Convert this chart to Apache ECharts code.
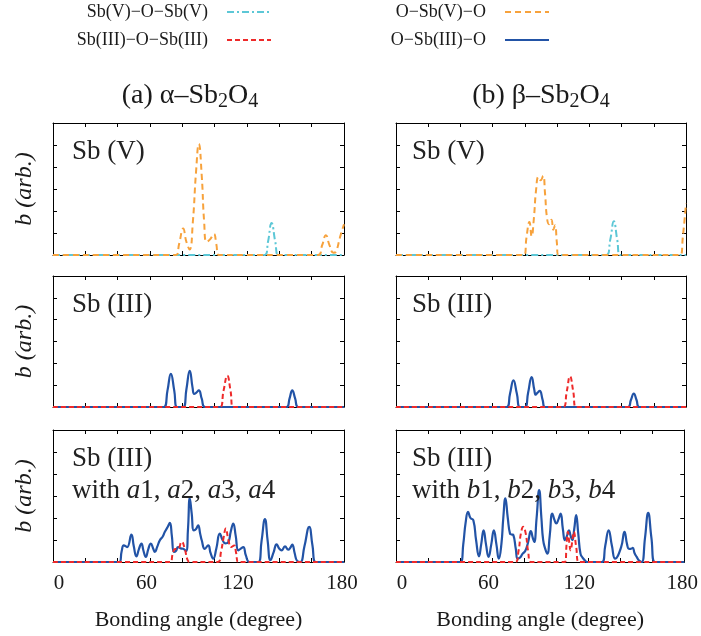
<!DOCTYPE html>
<html>
<head>
<meta charset="utf-8">
<script src="https://cdn.jsdelivr.net/npm/echarts@6/dist/echarts.min.js"></script>
<style>html,body{margin:0;padding:0;background:#fff;}#c{width:701px;height:636px;}</style>
</head>
<body>
<div id="c"></div>
<script>
// ---- data ----
const xTickValues = [0, 60, 120, 180];
const xTickLabels = ['0', '60', '120', '180'];
const seriesNames = ['Sb(V)−O−Sb(V)', 'O−Sb(V)−O', 'Sb(III)−O−Sb(III)', 'O−Sb(III)−O'];
const columnTitles = ['(a) α–Sb{s|2}O{s|4}', '(b) β–Sb{s|2}O{s|4}'];
const panelLabels = [
  'Sb (V)', 'Sb (V)',
  'Sb (III)', 'Sb (III)',
  'Sb (III)\nwith {i|a}1, {i|a}2, {i|a}3, {i|a}4', 'Sb (III)\nwith {i|b}1, {i|b}2, {i|b}3, {i|b}4'
];

// panel (a) Sb(V)
const a1Orange = [[0,0],[76,0],[78,0.5],[80.5,1.2],[82.5,0.6],[84.5,0.25],[86.5,1.5],[88.5,3.8],[90.2,5.05],[92,3.6],[93.5,1.5],[95,0.6],[97,0.7],[99.5,0.95],[101,0.5],[102.5,0],[164,0],[166.5,0.45],[168.8,0.9],[171,0.45],[173.5,0.1],[175,0.15],[177.5,0.8],[180,1.4]];
const a1Cyan = [[0,0],[131,0],[133,0.6],[135.2,1.45],[137.5,0.6],[139.5,0],[180,0]];
// panel (b) Sb(V)
const b1Orange = [[0,0],[79.5,0],[81,0.8],[82.8,1.5],[84.2,0.85],[85.5,1.6],[87,3.0],[88.4,3.55],[89.8,3.4],[91.3,3.6],[92.5,2.8],[93.7,1.7],[95,1.4],[96.5,1.6],[97.6,1.15],[98.7,1.35],[99.8,0.6],[100.7,0],[176.5,0],[178,0.8],[180,2.35]];
const b1Cyan = [[0,0],[130.5,0],[133,0.7],[135.2,1.53],[137.3,0.7],[139.2,0],[180,0]];
// panel (a) Sb(III)
const a2Blue = [[0,0],[68.5,0],[70.8,0.75],[72.9,1.52],[75,0.75],[76.8,0],[80.5,0],[82.5,0.8],[84.6,1.66],[86.3,0.9],[87.3,0.6],[88.5,0.65],[90.2,0.76],[92,0.38],[94,0],[144.5,0],[146.3,0.38],[148,0.76],[149.8,0.38],[151.7,0],[180,0]];
const a2Red = [[0,0],[103.2,0],[105.5,0.75],[107.8,1.43],[109.8,0.75],[111.5,0],[180,0]];
// panel (b) Sb(III)
const b2Blue = [[0,0],[68.7,0],[70.8,0.62],[72.9,1.22],[75,0.62],[77,0],[80,0],[82,0.65],[84.2,1.37],[85.8,0.8],[86.7,0.56],[87.8,0.65],[89.2,0.74],[91,0.33],[92.5,0],[144,0],[145.8,0.32],[147.6,0.61],[149.3,0.32],[151,0],[180,0]];
const b2Red = [[0,0],[103.8,0],[106,0.72],[108,1.4],[110,0.72],[111.7,0],[180,0]];
// panel (a) Sb(III) with a1..a4
const a3Blue = [[0,0],[41,0],[42.5,0.5],[43.8,0.76],[45.8,0.68],[48.5,1.25],[50,0.7],[51.6,0.26],[53.2,0.6],[54.7,0.84],[56,0.5],[57.4,0.23],[59,0.6],[60.5,0.84],[62,0.6],[63,0.46],[64.5,0.7],[66.1,0.99],[67.8,1.15],[69.2,1.37],[71,1.6],[72.3,1.78],[73.5,1.2],[74.8,0.46],[76,0.5],[77.4,0.68],[79,0.62],[80.5,0.6],[82.3,0.5],[83.5,1.5],[84.6,2.89],[85.8,2.2],[87.1,1.44],[88.5,1.5],[89.8,1.67],[91,1.3],[92,0.99],[93.9,0.6],[96,0.76],[97.5,0.4],[99.1,0.15],[101,0.6],[103.2,1.29],[104.9,1.0],[106.5,0.85],[108.4,0.9],[110,1.4],[111.5,1.75],[113,1.2],[114.6,0.53],[116,0.6],[117.7,0.68],[119.3,0.3],[121.5,0],[127,0],[129,0.95],[131.1,1.95],[132.8,0.95],[134.5,0.08],[136.5,0.45],[138.3,0.8],[140,0.6],[141.4,0.53],[143.5,0.71],[145.5,0.56],[146.8,0.65],[148,0.79],[149.5,0.4],[151,0.05],[153,0],[155.5,0.7],[158.5,1.6],[160.5,0.75],[162.5,0],[180,0]];
const a3Red = [[0,0],[72.5,0],[74,0.35],[75.5,0.59],[77.3,0.6],[79.6,0.92],[81.5,0.6],[83.2,0.1],[84.7,0],[102,0],[104,0.5],[105.5,1.1],[106.9,1.52],[108.5,1.0],[110.2,0.68],[112,0.75],[113.3,0.4],[114.6,0],[180,0]];
// panel (b) Sb(III) with b1..b4
const b3Blue = [[0,0],[40.3,0],[42,0.8],[43.5,1.8],[45,2.28],[46.5,2.0],[48.3,1.9],[50,1.0],[51.8,0.26],[53.2,0.8],[54.7,1.44],[56.2,0.8],[57.8,0.23],[59.5,0.8],[61.1,1.44],[62.7,0.8],[64.2,0.15],[65.8,0.8],[67,2.0],[68.3,2.89],[69.8,2.0],[71.2,1.29],[72.3,1.25],[73.3,1.22],[74.8,0.6],[76,0.15],[77.5,0.2],[79.1,0.38],[80.7,0.5],[82.5,0.9],[84.2,1.4],[85.4,1.1],[86.3,0.91],[87.8,2.0],[89.4,3.27],[90.8,2.0],[91.9,0.99],[93.2,0.6],[94.5,0.38],[96,1.2],[97.6,2.2],[99,1.9],[100.1,1.75],[101.5,1.95],[102.8,2.2],[104.2,1.5],[105.5,0.99],[106.8,1.2],[108,1.44],[109,1.2],[110.1,0.99],[111.3,1.5],[112.5,2.13],[113.8,1.3],[115.2,0.38],[116.5,0.2],[117.9,0.08],[119.3,0],[128.6,0],[130.7,0.75],[132.8,1.44],[134.8,0.75],[136.9,0.15],[140.5,0.65],[142.7,1.37],[144.3,0.8],[145.5,0.6],[146.7,0.6],[147.8,0.64],[149,0.4],[150.3,0.23],[152,0.05],[153.5,0],[155.5,1.1],[157.5,2.23],[159.5,1.1],[161.7,0],[180,0]];
const b3Red = [[0,0],[74.5,0],[76.5,0.5],[78,1.3],[79.5,1.6],[81,1.3],[82.5,0.5],[84.2,0],[105.5,0],[106.5,0.8],[107.3,1.37],[108.2,0.9],[109,0.53],[110,0.9],[111,1.37],[112.5,0.7],[114.2,0],[180,0]];

// ---- styling ----
const FONT = "'Liberation Serif', 'Times New Roman', serif";
const TXT = '#1a1a1a';
const COLORS = { cyan: '#5cc7d6', orange: '#f7a23c', red: '#ee2a2a', blue: '#2253a6' };
const LINES = [
  { color: COLORS.cyan, width: 2, type: [7, 3, 2, 3] },
  { color: COLORS.orange, width: 2, type: [6, 4] },
  { color: COLORS.red, width: 2, type: [5, 3] },
  { color: COLORS.blue, width: 2.2, type: 'solid' }
];

const gridLefts = [53, 396];
const gridWidths = [291, 290];
const gridTops = [123, 276, 430];
const gridHeights = [132, 131, 132];

const panelSeries = [
  [[0, a1Cyan], [1, a1Orange]],
  [[0, b1Cyan], [1, b1Orange]],
  [[3, a2Blue], [2, a2Red]],
  [[3, b2Blue], [2, b2Red]],
  [[3, a3Blue], [2, a3Red]],
  [[3, b3Blue], [2, b3Red]]
];

const grid = [], xAxis = [], yAxis = [], series = [], title = [];
const axisLine = { show: true, onZero: false, lineStyle: { color: '#000', width: 1 } };
const axisTick = { show: true, inside: true, length: 4, lineStyle: { color: '#000', width: 1 } };
const tickRich = {};
const tickPads = [[0, 0, 0, 12], [0, 7, 0, 0], [0, 18, 0, 0], [0, 4, 0, 0]];
tickPads.forEach((p, i) => { tickRich['t' + i] = { fontFamily: FONT, fontSize: 21, color: TXT, padding: p }; });

for (let p = 0; p < 6; p++) {
  const col = p % 2, row = Math.floor(p / 2);
  grid.push({ left: gridLefts[col], width: gridWidths[col], top: gridTops[row], height: gridHeights[row], containLabel: false });
  const bottomRow = row === 2;
  xAxis.push({
    type: 'value', gridIndex: p, min: 0, max: 180, interval: 20, position: 'bottom',
    axisLine, axisTick, splitLine: { show: false },
    axisLabel: {
      show: bottomRow, margin: 11, fontFamily: FONT, fontSize: 21, color: TXT,
      formatter: v => { const i = xTickValues.indexOf(v); return i < 0 ? '' : '{t' + i + '|' + xTickLabels[i] + '}'; },
      rich: tickRich
    },
    name: bottomRow ? 'Bonding angle (degree)' : '', nameLocation: 'middle', nameGap: 47,
    nameTextStyle: { fontFamily: FONT, fontSize: 22, color: TXT }
  });
  xAxis.push({
    type: 'value', gridIndex: p, min: 0, max: 180, interval: 20, position: 'top',
    axisLine, axisTick, splitLine: { show: false }, axisLabel: { show: false }
  });
  yAxis.push({
    type: 'value', gridIndex: p, min: 0, max: 6, interval: 1, position: 'left',
    axisLine, axisTick, splitLine: { show: false }, axisLabel: { show: false },
    name: col === 0 ? 'b (arb.)' : '', nameLocation: 'middle', nameGap: 16, nameRotate: 90,
    nameTextStyle: { fontFamily: FONT, fontSize: 24, fontStyle: 'italic', color: TXT }
  });
  yAxis.push({
    type: 'value', gridIndex: p, min: 0, max: 6, interval: 1, position: 'right',
    axisLine, axisTick, splitLine: { show: false }, axisLabel: { show: false }
  });
  panelSeries[p].forEach(([k, data]) => {
    series.push({
      type: 'line', name: seriesNames[k], xAxisIndex: 2 * p, yAxisIndex: 2 * p,
      data, smooth: 0.5, symbol: 'none', showSymbol: false, clip: true,
      lineStyle: { color: LINES[k].color, width: LINES[k].width, type: LINES[k].type },
      itemStyle: { color: LINES[k].color }, z: k === 2 ? 4 : 3
    });
  });
  title.push({
    text: panelLabels[p], left: col === 0 ? 72 : 412, top: gridTops[row] + 13, padding: 0,
    textStyle: {
      fontFamily: FONT, fontSize: 27, fontWeight: 'normal', color: '#222', lineHeight: 32,
      rich: { i: { fontFamily: FONT, fontSize: 27, fontStyle: 'italic', color: '#222', lineHeight: 32 } }
    }
  });
}

const titleCenters = [190, 541];
columnTitles.forEach((t, i) => {
  title.push({
    text: t, left: titleCenters[i], top: 80, textAlign: 'center', padding: 0,
    textStyle: {
      fontFamily: FONT, fontSize: 28, fontWeight: 'normal', color: TXT, lineHeight: 32,
      rich: { s: { fontFamily: FONT, fontSize: 20, color: TXT, lineHeight: 20, verticalAlign: 'bottom' } }
    }
  });
});

const legendRights = [429, 151, 429, 151];
const legendTops = [3, 3, 31, 31];
const legend = seriesNames.map((n, i) => ({
  data: [n], right: legendRights[i], top: legendTops[i], align: 'right', orient: 'horizontal',
  itemWidth: 44, itemHeight: 14, padding: 0, selectedMode: false,
  itemStyle: { opacity: 0, borderWidth: 0 },
  textStyle: { fontFamily: FONT, fontSize: 18, color: TXT, padding: [0, 14, 0, 0] }
}));

const chart = echarts.init(document.getElementById('c'), null, { renderer: 'canvas' });
chart.setOption({ animation: false, backgroundColor: '#fff', grid, xAxis, yAxis, series, title, legend });
</script>
</body>
</html>
